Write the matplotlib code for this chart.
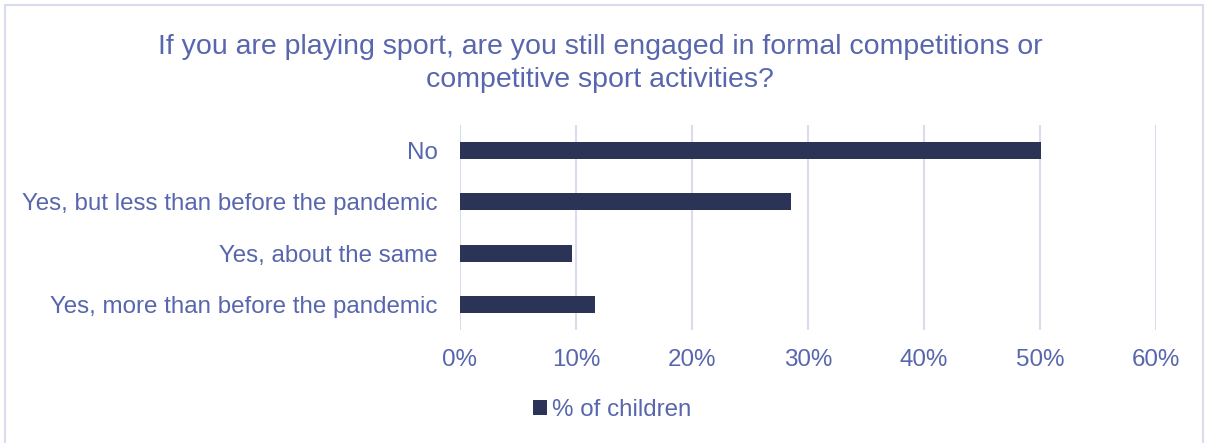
import matplotlib.pyplot as plt
from matplotlib.patches import Rectangle

# Survey answers, top to bottom as drawn
answers = [
    "No",
    "Yes, but less than before the pandemic",
    "Yes, about the same",
    "Yes, more than before the pandemic",
]
pct_children = [50.1, 28.5, 9.7, 11.6]
x_ticks = [0, 10, 20, 30, 40, 50, 60]

text_col = "#5866AE"
bar_col = "#2B3457"
grid_col = "#D9DCEE"

plt.rcParams["font.family"] = ["Liberation Sans", "DejaVu Sans"]

fig = plt.figure(figsize=(12.05, 4.43), dpi=100)
ax = fig.add_axes([0.3817, 0.255, 0.5776, 0.4628])

ypos = list(range(len(answers)))
ax.barh(ypos, pct_children, height=0.33, color=bar_col, label="% of children", zorder=3)

ax.set_xlim(0, 60)
ax.set_ylim(len(answers) - 0.5, -0.5)
ax.set_xticks(x_ticks)
ax.set_xticklabels([f"{t}%" for t in x_ticks])
ax.set_yticks(ypos)
ax.set_yticklabels(answers)
ax.tick_params(axis="both", length=0, colors=text_col, labelsize=17.4)
ax.tick_params(axis="x", pad=14)
ax.tick_params(axis="y", pad=16)
ax.grid(axis="x", color=grid_col, linewidth=1.5, zorder=0)
for s in ax.spines.values():
    s.set_visible(False)

fig.text(0.498, 0.857,
         "If you are playing sport, are you still engaged in formal competitions or\n"
         "competitive sport activities?",
         ha="center", va="center", color=text_col, fontsize=20.5, linespacing=1.38)

fig.legend(loc="center", bbox_to_anchor=(0.508, 0.075), frameon=False,
           fontsize=17.4, labelcolor=text_col, handlelength=0.6, handleheight=0.6,
           handletextpad=0.2)

# light frame around the whole chart area
fig.patches.append(Rectangle((0.004, -0.01), 0.994, 0.998, transform=fig.transFigure,
                             fill=False, edgecolor=grid_col, linewidth=1.5))

fig.savefig("out.png", dpi=100)
